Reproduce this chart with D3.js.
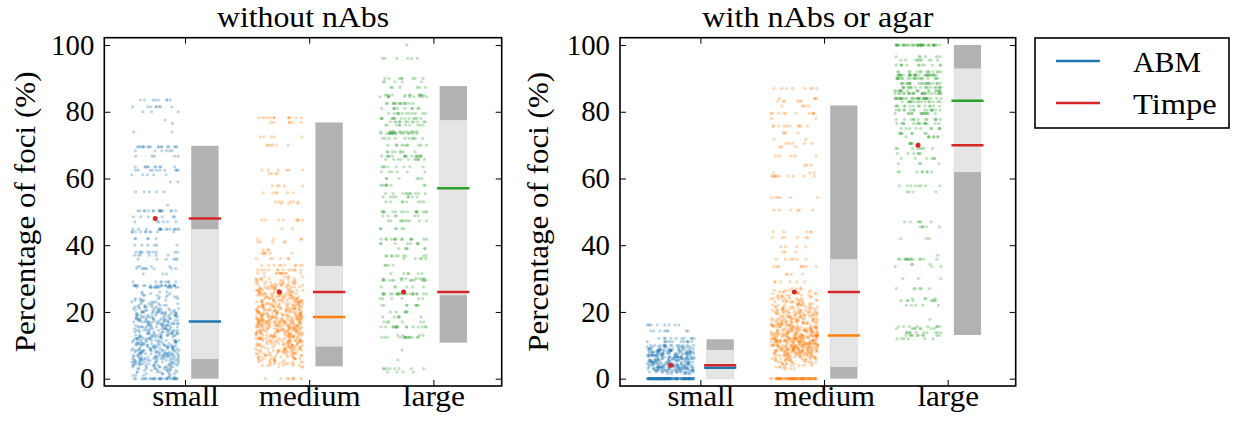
<!DOCTYPE html>
<html>
<head>
<meta charset="utf-8">
<script src="https://cdn.jsdelivr.net/npm/d3@7"></script>
<style>
  body { margin: 0; background: #fff; }
  text { font-family: "Liberation Serif", "Times New Roman", serif; fill: #000; }
</style>
</head>
<body>
<svg id="chart" width="1233" height="423"></svg>
<script>
// ---- categories, ticks and titles ----
const categories = ["small", "medium", "large"];
const panelTitles = ["without nAbs", "with nAbs or agar"];
const yTicks = [0, 20, 40, 60, 80, 100];
const legendLabels = ["ABM", "Timpe"];

// ---- Timpe ranges (dark = full range, light = inner range) and medians ----
const rangeLowWithout  = [0, 3.7, 10.8];
const innerLowWithout  = [5.9, 9.6, 25];
const innerHighWithout = [44.8, 33.8, 77.5];
const rangeHighWithout = [69.8, 76.8, 87.7];
const abmMedianWithout = [17.1, 18.5, 57.1];
const timpeWithout     = [48, 26, 26];

const rangeLowWith  = [0, 0, 13.1];
const innerLowWith  = [0, 3.5, 61.9];
const innerHighWith = [8.6, 35.8, 93];
const rangeHighWith = [11.8, 81.9, 100];
const abmMedianWith = [3.3, 12.9, 83.3];
const timpeWith     = [4, 26, 70];

// ---- ABM runs: [percentage of foci, number of runs at that value] ----
const withoutSmall = [[83.5,8],[81.5,8],[80,3],[77.5,1],[76.5,1],[74,2],[69.5,18],[68.3,6],[66.7,5],[63.5,10],[62.5,10],[61.1,5],[59,2],[56,5],[52,1],[50.3,16],[48.5,6],[47,6],[44.8,15],[44,10],[42,5],[40,6],[37.9,10],[37,6],[35.8,6],[33.6,4],[33,8],[31.4,3],[29,8],[27.9,20],[27.4,15],
  [26,3],[25.5,3],[25,4],[24.5,4],[24,4],[23.5,5],[23,5],[22.5,5],[22,6],[21.5,7],[21,7],[20.5,8],[20,12],[19.5,10],[19,10],[18.5,10],[18,11],[17.5,11],[17,11],[16.5,11],[16,10],[15.5,10],[15,10],[14.5,10],[14,10],[13.5,10],[13,10],[12.5,10],[12,10],[11.5,10],[11,10],[10.5,11],[10,11],[9.5,11],[9,11],[8.5,12],[8,12],[7.5,13],[7,12],[6.5,13],[6,12],[5.5,12],[5,11],[4.5,11],[4,10],[3.5,9],[3,8],[2.5,7],[2,6],[1.5,5],[1,4],[0.5,3],[0,28]];

const withoutMedium = [[78.2,12],[76.8,6],[72.5,5],[70,6],[62.5,6],[61.5,4],[57.8,5],[55.7,6],[53,6],[52.5,3],[47.5,8],[45,2],[41.8,4],[41,5],[38.6,3],[37.6,6],[36,6],[34,10],[32.6,12],[31.6,12],
  [30.5,5],[30,6],[29.5,6],[29,7],[28.5,8],[28,9],[27.5,9],[27,10],[26.5,10],[26,10],[25.5,11],[25,11],[24.5,11],[24,11],[23.5,12],[23,12],[22.5,12],[22,12],[21.5,13],[21,13],[20.5,14],[20,14],[19.5,15],[19,15],[18.5,16],[18,17],[17.5,17],[17,20],[16.5,16],[16,16],[15.5,15],[15,15],[14.5,14],[14,14],[13.5,13],[13,13],[12.5,13],[12,13],[11.5,12],[11,12],[10.5,11],[10,11],[9.5,10],[9,10],[8.5,10],[8,10],[7.5,9],[7,9],[6.5,8],[6,8],[5.5,7],[5,7],[4.5,6],[4,6],[3.5,3],[0,8]];

const withoutLarge = [[100,1],[96,6],[90,8],[89,5],[87.3,6],[85,12],[84.5,10],[82.5,14],[81,10],[79.5,12],[78,14],[77,12],[76,10],[74,14],[73.5,16],[72,10],[70,10],[68,8],[66.7,16],[65.7,10],[63.5,8],[62,6],[60,6],[58,8],[55.5,10],[54.5,8],[53,8],[50,16],[48.8,6],[47.3,10],[45,6],[41.8,14],[40.5,8],[39,6],[36.8,10],[36,5],[34,4],[31.5,6],[30,8],[29.5,14],[27.5,6],[25.4,22],[24,6],[22,8],[20,6],[18.5,6],[17,6],[15.5,16],[13,4],[12.4,14],[8.6,1],[5.6,1],[3,8],[2,4]];

const withSmall = [[16.1,8],[14.3,8],[12.1,10],[11.1,12],[10,14],
  [9.5,12],[9,13],[8.5,20],[8,20],[7.5,20],[7,20],[6.5,20],[6,20],[5.5,18],[5,18],[4.5,20],[4,20],[3.5,22],[3,23],[2.5,18],[2,17],[1.5,6],[0,150]];

const withMedium = [[87,8],[84,4],[83.2,6],[81.7,5],[79.5,10],[78,2],[75.7,10],[73.7,4],[71.7,2],[70.5,5],[69.5,3],[66.7,5],[64,3],[61.7,3],[60.7,10],[54.3,6],[50.5,6],[44,5],[42.3,6],[39.5,4],[38,3],[35.8,6],[33.6,8],[31.3,4],[29,6],
  [27,4],[26.5,4],[26,5],[25.5,5],[25,6],[24.5,6],[24,7],[23.5,7],[23,7],[22.5,7],[22,8],[21.5,8],[21,9],[20.5,9],[20,13],[19.5,10],[19,11],[18.5,11],[18,12],[17.5,12],[17,13],[16.5,13],[16,14],[15.5,14],[15,15],[14.5,15],[14,16],[13.5,17],[13,22],[12.5,20],[12,20],[11.5,20],[11,20],[10.5,20],[10,20],[9.5,20],[9,20],[8.5,19],[8,18],[7.5,15],[7,14],[6.5,12],[6,11],[5.5,9],[5,8],[4.5,6],[4,5],[3.5,4],[3,4],[0,80]];

const withLarge = [[100,40],[96.5,6],[95.5,10],[94,12],[92,14],[91,30],[90,20],[88.5,20],[87.3,18],[86.3,18],[85.5,24],[84,30],[83,16],[81.7,14],[80.5,16],[79.5,14],[77.7,12],[76.5,14],[75,10],[73.5,8],[72.5,8],[70.5,6],[69,8],[67.5,6],[66,6],[64.5,4],[62,8],[57.8,8],[56,4],[47,6],[45.5,5],[42,3],[37,1],[35.8,14],[34.3,3],[33.6,3],[30,3],[27,6],[24,4],[23.4,8],[22,5],[17.8,1],[15.6,8],[15,8],[13.8,10],[13,10],[12,6]];

// ---- styling ----
const catColors = ["#1f77b4", "#ff7f0e", "#2ca02c"];
const timpeColor = "#d62728";
const darkGray = "#b2b2b2";
const lightGray = "#e5e5e5";
const fontSize = 28.8;

const panels = [
  { title: panelTitles[0], left: 104.3, right: 501.7, ylabelX: 34.5,
    titleWidth: 172, ylabelWidth: 281, catWidths: [66.7, 101.7, 62.3],
    groups: [withoutSmall, withoutMedium, withoutLarge],
    lo: rangeLowWithout, q1: innerLowWithout, q3: innerHighWithout, hi: rangeHighWithout,
    abm: abmMedianWithout, timpe: timpeWithout },
  { title: panelTitles[1], left: 620, right: 1015.7, ylabelX: 547.8,
    titleWidth: 231, ylabelWidth: 280, catWidths: [66.7, 101, 61.5],
    groups: [withSmall, withMedium, withLarge],
    lo: rangeLowWith, q1: innerLowWith, q3: innerHighWith, hi: rangeHighWith,
    abm: abmMedianWith, timpe: timpeWith }
];

// deterministic horizontal scatter offset in [0, 1)
const jitter = n => { const s = Math.sin(n * 12.9898 + 78.233) * 43758.5453; return s - Math.floor(s); };

const svg = d3.select("#chart");
const plotTop = 37.7, plotBottom = 386;

panels.forEach((p, pi) => {
  const x = d3.scaleLinear().domain([0.35, 3.55]).range([p.left, p.right]);
  const y = d3.scaleLinear().domain([-2.2, 102.2]).range([plotBottom, plotTop]);
  const g = svg.append("g");

  // jittered ABM runs
  p.groups.forEach((levels, gi) => {
    const pts = [];
    let idx = 0;
    levels.forEach(([v, c]) => {
      for (let k = 0; k < c; k++) { pts.push({ v, idx }); idx++; }
    });
    const seed = pi * 7919 + gi * 1543;
    g.append("g").selectAll("circle").data(pts).join("circle")
      .attr("cx", d => x(gi + 1 - 0.24 + (jitter(seed + d.idx) * 2 - 1) * 0.19))
      .attr("cy", d => y(d.v))
      .attr("r", 1.6)
      .attr("fill", catColors[gi])
      .attr("fill-opacity", 0.3);
  });

  // Timpe range boxes, medians and values
  categories.forEach((c, i) => {
    const bx = x(i + 1 + 0.05), bw = x(i + 1 + 0.27) - bx;
    g.append("rect").attr("x", bx).attr("width", bw)
      .attr("y", y(p.hi[i])).attr("height", y(p.lo[i]) - y(p.hi[i]))
      .attr("fill", darkGray);
    g.append("rect").attr("x", bx).attr("width", bw)
      .attr("y", y(p.q3[i])).attr("height", y(p.q1[i]) - y(p.q3[i]))
      .attr("fill", lightGray);
    const lx1 = x(i + 1 + 0.03), lx2 = x(i + 1 + 0.29);
    g.append("line").attr("x1", lx1).attr("x2", lx2)
      .attr("y1", y(p.abm[i])).attr("y2", y(p.abm[i]))
      .attr("stroke", catColors[i]).attr("stroke-width", 2.5);
    g.append("line").attr("x1", lx1).attr("x2", lx2)
      .attr("y1", y(p.timpe[i])).attr("y2", y(p.timpe[i]))
      .attr("stroke", timpeColor).attr("stroke-width", 2.5);
    g.append("circle").attr("cx", x(i + 1 - 0.24)).attr("cy", y(p.timpe[i]))
      .attr("r", 2.5).attr("fill", timpeColor);
  });

  // axes with inward ticks on all four sides
  const ax = (axis, tr) => {
    const a = g.append("g").attr("transform", tr).call(axis);
    a.select(".domain").remove();
    a.selectAll(".tick line").attr("stroke", "#000").attr("stroke-width", 1);
    a.selectAll("text").attr("font-size", fontSize).attr("font-family", "Liberation Serif");
    return a;
  };
  ax(d3.axisLeft(y).tickValues(yTicks).tickSize(-6).tickPadding(10), `translate(${p.left},0)`);
  ax(d3.axisRight(y).tickValues(yTicks).tickSize(-6).tickFormat(""), `translate(${p.right},0)`);
  const xb = ax(d3.axisBottom(x).tickValues([1, 2, 3]).tickSize(-6)
    .tickFormat(v => categories[v - 1]), `translate(0,${plotBottom})`);
  xb.selectAll("text").attr("y", 19.5).attr("dy", 0)
    .attr("textLength", (d, i) => p.catWidths[i]).attr("lengthAdjust", "spacingAndGlyphs");
  ax(d3.axisTop(x).tickValues([1, 2, 3]).tickSize(-6).tickFormat(""), `translate(0,${plotTop})`);

  // frame
  g.append("rect").attr("x", p.left).attr("y", plotTop)
    .attr("width", p.right - p.left).attr("height", plotBottom - plotTop)
    .attr("fill", "none").attr("stroke", "#000").attr("stroke-width", 1.6);

  // title and y label
  g.append("text").attr("x", (p.left + p.right) / 2).attr("y", 27)
    .attr("text-anchor", "middle").attr("font-size", fontSize)
    .attr("textLength", p.titleWidth).attr("lengthAdjust", "spacingAndGlyphs")
    .text(p.title);
  g.append("text")
    .attr("transform", `translate(${p.ylabelX},${(plotTop + plotBottom) / 2}) rotate(-90)`)
    .attr("text-anchor", "middle").attr("font-size", fontSize)
    .attr("textLength", p.ylabelWidth).attr("lengthAdjust", "spacingAndGlyphs")
    .text("Percentage of foci (%)");
});

// legend
const legendWidths = [68, 83.7];
const lg = svg.append("g");
lg.append("rect").attr("x", 1035).attr("y", 38).attr("width", 194).attr("height", 90)
  .attr("fill", "#fff").attr("stroke", "#000").attr("stroke-width", 1.6);
[catColors[0], timpeColor].forEach((col, i) => {
  const yy = 61 + i * 42;
  lg.append("line").attr("x1", 1056).attr("x2", 1100).attr("y1", yy).attr("y2", yy)
    .attr("stroke", col).attr("stroke-width", 2.5);
  lg.append("text").attr("x", 1133).attr("y", yy + 11).attr("font-size", fontSize)
    .attr("textLength", legendWidths[i]).attr("lengthAdjust", "spacingAndGlyphs")
    .text(legendLabels[i]);
});
</script>
</body>
</html>
